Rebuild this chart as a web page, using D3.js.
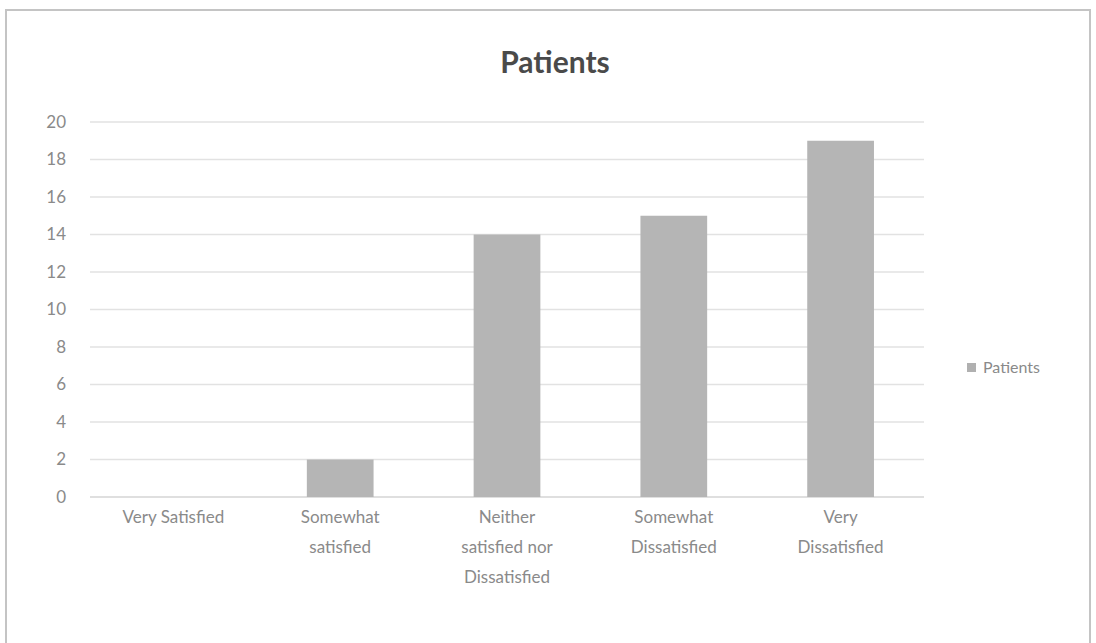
<!DOCTYPE html>
<html>
<head>
<meta charset="utf-8">
<script src="https://cdn.jsdelivr.net/npm/d3@7"></script>
<style>
  body { margin: 0; background: #fff; }
  svg { display: block; font-family: Lato, "Open Sans", sans-serif; }
</style>
</head>
<body>
<svg width="1096" height="643"></svg>
<script>
const categories = [
  ["Very Satisfied"],
  ["Somewhat", "satisfied"],
  ["Neither", "satisfied nor", "Dissatisfied"],
  ["Somewhat", "Dissatisfied"],
  ["Very", "Dissatisfied"]
];
const patients = [0, 2, 14, 15, 19];
const yTicks = [0, 2, 4, 6, 8, 10, 12, 14, 16, 18, 20];
const seriesName = "Patients";

const width = 1096;
const height = 643;
const margin = { top: 122, right: 172, bottom: 146, left: 90 };

const svg = d3.select("svg");

// chart frame
svg.append("rect")
  .attr("x", 6)
  .attr("y", 10)
  .attr("width", 1084)
  .attr("height", 640)
  .attr("fill", "none")
  .attr("stroke", "#c4c4c4")
  .attr("stroke-width", 2);

const x = d3.scaleBand()
  .domain(d3.range(categories.length))
  .range([margin.left, width - margin.right])
  .paddingInner(0.6)
  .paddingOuter(0.3);

const y = d3.scaleLinear()
  .domain([0, 20])
  .range([height - margin.bottom, margin.top]);

// gridlines
svg.append("g")
  .selectAll("line")
  .data(yTicks)
  .enter()
  .append("line")
  .attr("x1", margin.left)
  .attr("x2", width - margin.right)
  .attr("y1", (d) => y(d))
  .attr("y2", (d) => y(d))
  .attr("stroke", (d) => (d === 0 ? "#d4d4d4" : "#e2e2e2"))
  .attr("stroke-width", 1.5);

// y axis labels
const yAxis = svg.append("g")
  .attr("transform", `translate(${margin.left - 24}, 0)`)
  .call(d3.axisLeft(y).tickValues(yTicks).tickSize(0).tickPadding(0));
yAxis.select(".domain").remove();
yAxis.selectAll("text")
  .attr("font-size", 17)
  .attr("fill", "#8a8a8a")
  .attr("font-family", "Lato, sans-serif");

// bars
svg.append("g")
  .selectAll("rect")
  .data(patients)
  .enter()
  .append("rect")
  .attr("x", (d, i) => x(i))
  .attr("y", (d) => y(d))
  .attr("width", x.bandwidth())
  .attr("height", (d) => y(0) - y(d))
  .attr("fill", "#b5b5b5");

// category labels
const cat = svg.append("g")
  .selectAll("text")
  .data(categories)
  .enter()
  .append("text")
  .attr("text-anchor", "middle")
  .attr("font-size", 17)
  .attr("fill", "#8a8a8a")
  .attr("transform", (d, i) => `translate(${x(i) + x.bandwidth() / 2}, ${y(0) + 26})`);
cat.selectAll("tspan")
  .data((d) => d)
  .enter()
  .append("tspan")
  .attr("x", 0)
  .attr("dy", (d, i) => (i === 0 ? 0 : 30))
  .text((d) => d);

// title
svg.append("text")
  .attr("x", 555)
  .attr("y", 73)
  .attr("text-anchor", "middle")
  .attr("font-size", 30)
  .attr("font-weight", "bold")
  .attr("fill", "#4a4a4a")
  .text(seriesName);

// legend
const legend = svg.append("g")
  .attr("transform", `translate(967, 363)`);
legend.append("rect")
  .attr("width", 9)
  .attr("height", 9)
  .attr("fill", "#b0b0b0");
legend.append("text")
  .attr("x", 16)
  .attr("y", 10)
  .attr("font-size", 16)
  .attr("fill", "#8a8a8a")
  .text(seriesName);
</script>
</body>
</html>
